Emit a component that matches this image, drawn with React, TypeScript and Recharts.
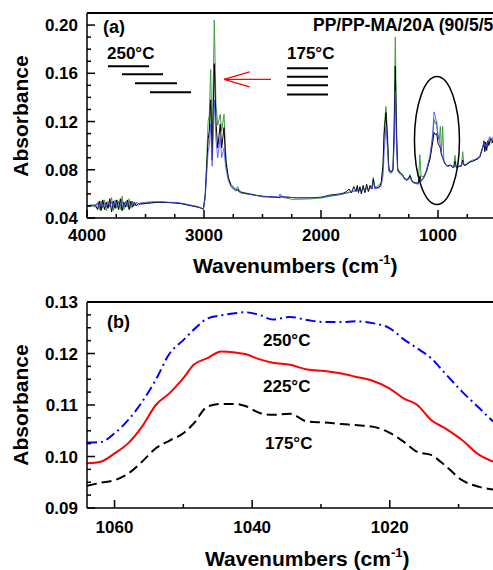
import { LineChart, Line, XAxis, YAxis, ReferenceLine, ReferenceDot } from 'recharts';

const FONT = '"Liberation Sans", Arial, sans-serif';

// (a) full spectrum, wavenumber in cm-1
const WN_A = [
  4000, 3960, 3930, 3910, 3895, 3880, 3865, 3850, 3835, 3820,
  3805, 3790, 3775, 3760, 3745, 3730, 3715, 3700, 3685, 3670,
  3655, 3640, 3625, 3610, 3595, 3580, 3560, 3540, 3500, 3450,
  3400, 3350, 3300, 3250, 3200, 3150, 3100, 3050, 3020, 3005,
  2990, 2978, 2965, 2955, 2943, 2930, 2912, 2898, 2883, 2861,
  2849, 2829, 2815, 2806, 2792, 2770, 2750, 2730, 2712, 2700,
  2678, 2600, 2564, 2500, 2400, 2360, 2350, 2340, 2320, 2250,
  2200, 2100, 2000, 1923, 1850, 1812, 1780, 1760, 1740, 1720,
  1700, 1690, 1680, 1667, 1655, 1640, 1625, 1610, 1595, 1580,
  1565, 1553, 1540, 1524, 1500, 1485, 1470, 1460, 1445, 1432,
  1422, 1416, 1400, 1385, 1375, 1365, 1355, 1345, 1339, 1320,
  1302, 1290, 1268, 1250, 1239, 1225, 1211, 1190, 1168, 1155,
  1145, 1125, 1110, 1097, 1080, 1068, 1055, 1045, 1034, 1022,
  1011, 1000, 989, 980, 970, 960, 950, 940, 920, 905,
  892, 875, 865, 855, 845, 835, 815, 800, 789, 779,
  769, 745, 726, 705, 684, 660, 641, 625, 614, 607,
  600, 592, 584, 575, 565, 556, 545, 530,
];

const GREEN_A = [
  0.05, 0.0505, 0.049, 0.053, 0.047, 0.054, 0.048, 0.055, 0.046, 0.052,
  0.049, 0.057, 0.046, 0.053, 0.048, 0.054, 0.047, 0.058, 0.047, 0.053,
  0.049, 0.056, 0.048, 0.053, 0.05, 0.052, 0.0505, 0.052, 0.0525, 0.0528,
  0.053, 0.053, 0.0528, 0.0525, 0.052, 0.051, 0.05, 0.049, 0.048, 0.0475,
  0.06, 0.085, 0.12, 0.125, 0.163, 0.1, 0.204, 0.135, 0.117, 0.126,
  0.112, 0.126, 0.095, 0.084, 0.074, 0.068, 0.066, 0.064, 0.066, 0.063,
  0.0615, 0.06, 0.059, 0.0575, 0.057, 0.057, 0.0565, 0.057, 0.057, 0.0555,
  0.0555, 0.0558, 0.0565, 0.058, 0.059, 0.06, 0.0605, 0.061, 0.0615, 0.062,
  0.0625, 0.064, 0.062, 0.064, 0.062, 0.0645, 0.063, 0.065, 0.063, 0.065,
  0.066, 0.074, 0.066, 0.066, 0.068, 0.07, 0.085, 0.115, 0.1325, 0.11,
  0.085, 0.08, 0.079, 0.08, 0.12, 0.19, 0.12, 0.082, 0.08, 0.0775,
  0.076, 0.0735, 0.072, 0.0735, 0.076, 0.072, 0.07, 0.069, 0.069, 0.0925,
  0.075, 0.074, 0.077, 0.08, 0.087, 0.091, 0.1, 0.1075, 0.1217, 0.118,
  0.12, 0.108, 0.105, 0.116, 0.095, 0.116, 0.088, 0.0858, 0.0825, 0.084,
  0.084, 0.0825, 0.082, 0.092, 0.083, 0.0825, 0.083, 0.084, 0.095, 0.085,
  0.084, 0.085, 0.0867, 0.087, 0.088, 0.089, 0.091, 0.095, 0.101, 0.1025,
  0.097, 0.1, 0.098, 0.101, 0.104, 0.106, 0.102, 0.105,
];

const BLACK_A = [
  0.05, 0.05, 0.051, 0.047, 0.054, 0.046, 0.055, 0.047, 0.053, 0.048,
  0.056, 0.045, 0.054, 0.048, 0.055, 0.047, 0.056, 0.046, 0.053, 0.049,
  0.055, 0.047, 0.054, 0.049, 0.053, 0.05, 0.052, 0.0515, 0.052, 0.0525,
  0.053, 0.053, 0.0528, 0.0525, 0.052, 0.051, 0.05, 0.049, 0.048, 0.0475,
  0.058, 0.08, 0.105, 0.112, 0.138, 0.088, 0.168, 0.12, 0.098, 0.118,
  0.098, 0.115, 0.088, 0.082, 0.073, 0.067, 0.065, 0.063, 0.064, 0.062,
  0.061, 0.0595, 0.059, 0.058, 0.0575, 0.057, 0.0575, 0.058, 0.0575, 0.057,
  0.0568, 0.0568, 0.0572, 0.059, 0.0598, 0.0605, 0.062, 0.064, 0.061, 0.066,
  0.062, 0.067, 0.061, 0.066, 0.06, 0.067, 0.061, 0.068, 0.062, 0.067,
  0.064, 0.072, 0.065, 0.065, 0.066, 0.069, 0.083, 0.11, 0.1275, 0.105,
  0.083, 0.079, 0.078, 0.08, 0.11, 0.166, 0.11, 0.081, 0.079, 0.077,
  0.0755, 0.073, 0.0715, 0.073, 0.075, 0.071, 0.0695, 0.069, 0.069, 0.075,
  0.071, 0.073, 0.076, 0.079, 0.085, 0.089, 0.097, 0.103, 0.111, 0.109,
  0.11, 0.102, 0.1, 0.098, 0.092, 0.09, 0.087, 0.085, 0.083, 0.0835,
  0.0835, 0.082, 0.082, 0.087, 0.082, 0.082, 0.083, 0.083, 0.088, 0.084,
  0.0835, 0.085, 0.0865, 0.087, 0.088, 0.089, 0.091, 0.097, 0.099, 0.104,
  0.095, 0.103, 0.096, 0.104, 0.1, 0.104, 0.106, 0.102,
];

const BLUE_A = [
  0.05, 0.051, 0.05, 0.052, 0.049, 0.053, 0.05, 0.052, 0.049, 0.054,
  0.05, 0.053, 0.049, 0.055, 0.05, 0.052, 0.05, 0.054, 0.049, 0.054,
  0.051, 0.053, 0.05, 0.054, 0.051, 0.053, 0.052, 0.0525, 0.053, 0.0535,
  0.0535, 0.0535, 0.053, 0.053, 0.0525, 0.0515, 0.0505, 0.0495, 0.048, 0.047,
  0.057, 0.075, 0.095, 0.1, 0.118, 0.083, 0.138, 0.105, 0.09, 0.107,
  0.09, 0.098, 0.082, 0.078, 0.071, 0.066, 0.064, 0.0625, 0.063, 0.0615,
  0.0605, 0.0595, 0.0588, 0.058, 0.0575, 0.0575, 0.06, 0.0585, 0.0575, 0.057,
  0.0568, 0.0568, 0.057, 0.0585, 0.0595, 0.06, 0.061, 0.0615, 0.062, 0.0625,
  0.063, 0.063, 0.0635, 0.063, 0.0635, 0.064, 0.063, 0.064, 0.064, 0.0645,
  0.065, 0.07, 0.064, 0.0645, 0.065, 0.067, 0.075, 0.095, 0.116, 0.098,
  0.08, 0.078, 0.077, 0.079, 0.1, 0.145, 0.1, 0.079, 0.078, 0.076,
  0.075, 0.0725, 0.071, 0.072, 0.074, 0.0705, 0.069, 0.0685, 0.068, 0.072,
  0.07, 0.0725, 0.076, 0.08, 0.087, 0.092, 0.102, 0.11, 0.128, 0.124,
  0.116, 0.108, 0.104, 0.1, 0.094, 0.09, 0.087, 0.085, 0.083, 0.083,
  0.0835, 0.083, 0.0825, 0.085, 0.082, 0.082, 0.083, 0.083, 0.087, 0.084,
  0.084, 0.086, 0.087, 0.088, 0.0885, 0.09, 0.092, 0.096, 0.1, 0.103,
  0.099, 0.101, 0.099, 0.103, 0.106, 0.1075, 0.104, 0.107,
];

const X_TICKS_A = [4000, 3750, 3500, 3250, 3000, 2750, 2500, 2250, 2000, 1750, 1500, 1250, 1000, 750];
const X_LABELS_A = [4000, 3000, 2000, 1000];
const Y_TICKS_A = [0.04, 0.05, 0.06, 0.07, 0.08, 0.09, 0.1, 0.11, 0.12, 0.13, 0.14, 0.15, 0.16, 0.17, 0.18, 0.19, 0.2];
const Y_LABELS_A = [0.04, 0.08, 0.12, 0.16, 0.2];

// (b) zoom on 1064-1005 cm-1
const WN_B = [
  1064, 1062, 1060, 1058, 1056, 1054, 1052, 1050, 1048.5, 1046.5,
  1044.5, 1042.5, 1041, 1039, 1037, 1034.5, 1032, 1029.5, 1027, 1025,
  1022.5, 1020, 1018, 1016, 1014, 1012, 1009.5, 1007, 1005,
];
const T250 = [
  0.1027, 0.1028, 0.1045, 0.1071, 0.1106, 0.1149, 0.12, 0.1226, 0.1246, 0.1268,
  0.1274, 0.1278, 0.128, 0.1275, 0.1266, 0.1271, 0.1265, 0.1261, 0.1261, 0.12625,
  0.1259, 0.1249, 0.1228, 0.121, 0.1191, 0.1162, 0.1126, 0.1094, 0.1068,
];
const T225 = [
  0.0987, 0.099, 0.1006, 0.1026, 0.1058, 0.11, 0.1123, 0.1152, 0.1178, 0.1191,
  0.1204, 0.1202, 0.1199, 0.1189, 0.1182, 0.1178, 0.1169, 0.1166, 0.1161, 0.1155,
  0.1147, 0.1132, 0.1113, 0.11, 0.1071, 0.1055, 0.1032, 0.1003, 0.099,
];
const T175 = [
  0.0943, 0.0949, 0.0954, 0.0967, 0.099, 0.1016, 0.1031, 0.1045, 0.1064, 0.1097,
  0.1102, 0.1102, 0.1098, 0.1085, 0.1081, 0.1083, 0.1068, 0.1066, 0.1063, 0.1061,
  0.1058, 0.1046, 0.1029, 0.1009, 0.1003, 0.0983, 0.0954, 0.0941, 0.0936,
];

const X_TICKS_B = [1060, 1050, 1040, 1030, 1020, 1010];
const X_LABELS_B = [1060, 1040, 1020];
const Y_TICKS_B = [0.09, 0.0925, 0.095, 0.0975, 0.1, 0.1025, 0.105, 0.1075, 0.11, 0.1125, 0.115, 0.1175, 0.12, 0.1225, 0.125, 0.1275, 0.13];
const Y_LABELS_B = [0.09, 0.1, 0.11, 0.12, 0.13];

const dataA = WN_A.map((wn, i) => ({ wn, g: GREEN_A[i], k: BLACK_A[i], b: BLUE_A[i] }));
const dataB = WN_B.map((wn, i) => ({ wn, t250: T250[i], t225: T225[i], t175: T175[i] }));

const isIn = (list: number[], v: number) => list.some(l => Math.abs(l - v) < 1e-9);

const textStyle = { fontFamily: FONT, fontWeight: 700, fontSize: 17, fill: '#000' };

function makeXTick(labels: number[], labelDy: number) {
  return (props: any) => {
    const { x, y, payload } = props;
    const major = isIn(labels, payload.value);
    return (
      <g>
        <line x1={x} x2={x} y1={y} y2={y - (major ? 8 : 4)} stroke="#000" strokeWidth={1.5} />
        {major && (
          <text x={x} y={y + labelDy} textAnchor="middle" style={textStyle}>
            {payload.value}
          </text>
        )}
      </g>
    );
  };
}

function makeYTick(labels: number[]) {
  return (props: any) => {
    const { x, y, payload } = props;
    const major = isIn(labels, payload.value);
    return (
      <g>
        <line x1={x} x2={x + (major ? 8 : 4)} y1={y} y2={y} stroke="#000" strokeWidth={1.5} />
        {major && (
          <text x={x - 9} y={y + 6} textAnchor="end" style={textStyle}>
            {payload.value.toFixed(2)}
          </text>
        )}
      </g>
    );
  };
}

const axisLine = { stroke: '#000', strokeWidth: 1.5 };

const ellipseShape = (p: any) => (
  <ellipse cx={p.cx} cy={p.cy} rx={22.5} ry={64} fill="none" stroke="#000" strokeWidth={1.5} />
);

export default function App() {
  return (
    <div style={{ position: 'absolute', left: 0, top: 0, width: 493, height: 570, overflow: 'hidden', background: '#fff' }}>
      <div style={{ position: 'absolute', left: 0, top: 0 }}>
        <LineChart width={493} height={280} data={dataA} margin={{ top: 13, right: 0, bottom: 0, left: 0 }}>
          <XAxis
            dataKey="wn"
            type="number"
            domain={[530, 4000]}
            reversed
            allowDataOverflow
            ticks={X_TICKS_A}
            interval={0}
            tickSize={0}
            tickMargin={0}
            height={62}
            axisLine={axisLine}
            tickLine={false}
            tick={makeXTick(X_LABELS_A, 23)}
          />
          <YAxis
            type="number"
            domain={[0.04, 0.21]}
            allowDataOverflow
            ticks={Y_TICKS_A}
            interval={0}
            tickSize={0}
            tickMargin={0}
            width={87}
            axisLine={axisLine}
            tickLine={false}
            tick={makeYTick(Y_LABELS_A)}
          />
          <ReferenceLine y={0.21} stroke="#000" strokeWidth={2} />
          <Line dataKey="g" stroke="#3f9f3f" strokeWidth={1} dot={false} isAnimationActive={false} />
          <Line dataKey="k" stroke="#000" strokeWidth={1} dot={false} isAnimationActive={false} />
          <Line dataKey="b" stroke="#4545ff" strokeOpacity={0.8} strokeWidth={1} dot={false} isAnimationActive={false} />
          {/* temperature stacks */}
          <ReferenceLine segment={[{ x: 3821, y: 0.1658 }, { x: 3470, y: 0.1658 }]} stroke="#000" strokeWidth={2} />
          <ReferenceLine segment={[{ x: 3701, y: 0.1592 }, { x: 3350, y: 0.1592 }]} stroke="#000" strokeWidth={2} />
          <ReferenceLine segment={[{ x: 3590, y: 0.1517 }, { x: 3231, y: 0.1517 }]} stroke="#000" strokeWidth={2} />
          <ReferenceLine segment={[{ x: 3462, y: 0.1442 }, { x: 3111, y: 0.1442 }]} stroke="#000" strokeWidth={2} />
          <ReferenceLine segment={[{ x: 2291, y: 0.1642 }, { x: 1940, y: 0.1642 }]} stroke="#000" strokeWidth={2} />
          <ReferenceLine segment={[{ x: 2291, y: 0.1572 }, { x: 1940, y: 0.1572 }]} stroke="#000" strokeWidth={2} />
          <ReferenceLine segment={[{ x: 2291, y: 0.15 }, { x: 1940, y: 0.15 }]} stroke="#000" strokeWidth={2} />
          <ReferenceLine segment={[{ x: 2291, y: 0.1425 }, { x: 1940, y: 0.1425 }]} stroke="#000" strokeWidth={2} />
          {/* red arrow */}
          <ReferenceLine segment={[{ x: 2427, y: 0.155 }, { x: 2829, y: 0.155 }]} stroke="#ff0000" strokeWidth={1.2} />
          <ReferenceLine segment={[{ x: 2829, y: 0.155 }, { x: 2610, y: 0.1612 }]} stroke="#ff0000" strokeWidth={1.2} />
          <ReferenceLine segment={[{ x: 2829, y: 0.155 }, { x: 2610, y: 0.1488 }]} stroke="#ff0000" strokeWidth={1.2} />
          <ReferenceDot x={1009} y={0.1042} r={1} shape={ellipseShape} />
        </LineChart>
      </div>
      <div style={{ position: 'absolute', left: 0, top: 280 }}>
        <LineChart width={493} height={290} data={dataB} margin={{ top: 22, right: 0, bottom: 0, left: 0 }}>
          <XAxis
            dataKey="wn"
            type="number"
            domain={[1005, 1064]}
            reversed
            allowDataOverflow
            ticks={X_TICKS_B}
            interval={0}
            tickSize={0}
            tickMargin={0}
            height={62}
            axisLine={axisLine}
            tickLine={false}
            tick={makeXTick(X_LABELS_B, 25)}
          />
          <YAxis
            type="number"
            domain={[0.09, 0.13]}
            allowDataOverflow
            ticks={Y_TICKS_B}
            interval={0}
            tickSize={0}
            tickMargin={0}
            width={87}
            axisLine={axisLine}
            tickLine={false}
            tick={makeYTick(Y_LABELS_B)}
          />
          <ReferenceLine y={0.13} stroke="#000" strokeWidth={2} />
          <Line dataKey="t250" type="monotone" stroke="#0000ff" strokeWidth={2} strokeDasharray="10 4 2 4" dot={false} isAnimationActive={false} />
          <Line dataKey="t225" type="monotone" stroke="#ff0000" strokeWidth={2} dot={false} isAnimationActive={false} />
          <Line dataKey="t175" type="monotone" stroke="#000" strokeWidth={2} strokeDasharray="10 5" dot={false} isAnimationActive={false} />
        </LineChart>
      </div>
      <svg width={493} height={570} style={{ position: 'absolute', left: 0, top: 0, pointerEvents: 'none' }}>
        <g style={{ fontFamily: FONT, fontWeight: 700 }}>
          <text x={103} y={33} fontSize={18}>(a)</text>
          <text x={107} y={59} fontSize={17}>250°C</text>
          <text x={287} y={59} fontSize={17}>175°C</text>
          <text x={313} y={31} fontSize={17.5}>PP/PP-MA/20A (90/5/5)</text>
          <text x={0} y={0} fontSize={21} textAnchor="middle" transform="translate(28,116) rotate(-90)">Absorbance</text>
          <text x={193} y={273} fontSize={21}>
            Wavenumbers (cm<tspan dy={-9} fontSize={13}>-1</tspan><tspan dy={9}>)</tspan>
          </text>
          <text x={107} y={328} fontSize={18}>(b)</text>
          <text x={263} y={346} fontSize={17}>250°C</text>
          <text x={263} y={392} fontSize={17}>225°C</text>
          <text x={265} y={449} fontSize={17}>175°C</text>
          <text x={0} y={0} fontSize={21} textAnchor="middle" transform="translate(28,405) rotate(-90)">Absorbance</text>
          <text x={205} y={566} fontSize={21}>
            Wavenumbers (cm<tspan dy={-9} fontSize={13}>-1</tspan><tspan dy={9}>)</tspan>
          </text>
        </g>
      </svg>
    </div>
  );
}
